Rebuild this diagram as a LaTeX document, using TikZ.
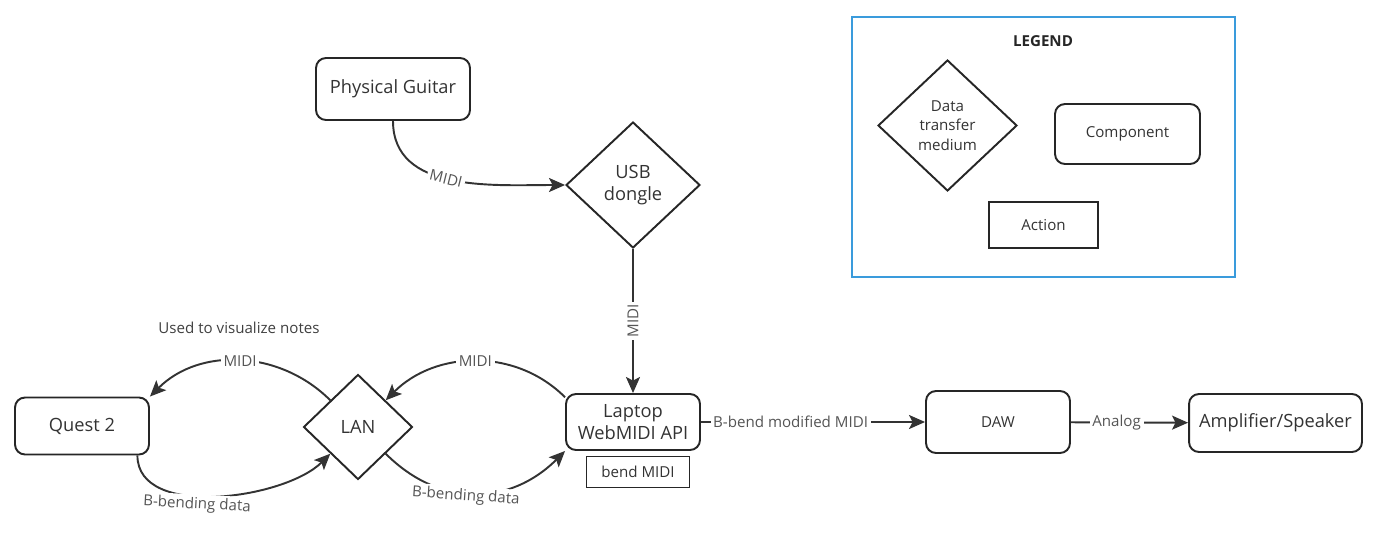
\documentclass[tikz,border=0pt]{standalone}
\usepackage{fontspec}
\setmainfont{Open Sans}
\usetikzlibrary{shapes.geometric,arrows.meta}
\definecolor{edgegray}{HTML}{333333}
\definecolor{labelgray}{HTML}{555555}
\definecolor{legendblue}{HTML}{3A9BDC}
\begin{document}
\begin{tikzpicture}[x=0.02cm,y=0.02cm,
    component/.style ={draw=black!85, line width=1.1pt, rounded corners=2mm, text=black!80, align=center, font=\fontsize{10.4}{13}\selectfont},
    medium/.style ={diamond, draw=black!85, line width=1.1pt, inner sep=0pt, text=black!80, align=center, font=\fontsize{10.4}{13}\selectfont},
    action/.style ={draw=black!85, line width=1.1pt, text=black!80, font=\fontsize{8.6}{10}\selectfont},
    small/.style ={font=\fontsize{8.6}{11}\selectfont},
    link/.style ={draw=edgegray, line width=1.1pt, -{Stealth[length=3.2mm,width=2.8mm,inset=0.7mm]}},
    tag/.style ={fill=white, text=labelgray, inner sep=1.5pt, font=\fontsize{8.6}{10}\selectfont}]
   \useasboundingbox (0,0) rectangle (1385,-551);

   \node[component, minimum width=3.08cm, minimum height=1.24cm] (G) at (393,-89) {Physical Guitar};
   \node[medium, minimum width=2.68cm, minimum height=2.52cm] (U) at (633,-185) {USB\\dongle};
   \node[component, minimum width=2.68cm, minimum height=1.12cm, font=\fontsize{10.4}{12.5}\selectfont] (L) at (633,-422) {Laptop\\WebMIDI API};
   \node[action, minimum width=2.06cm, minimum height=0.62cm] (B) at (638,-472) {bend MIDI};
   \node[medium, minimum width=2.18cm, minimum height=2.1cm] (N) at (358,-427) {LAN};
   \node[component, minimum width=2.68cm, minimum height=1.14cm] (Q) at (82,-426) {Quest 2};
   \node[component, small, minimum width=2.88cm, minimum height=1.24cm] (D) at (998,-422) {DAW};
   \node[component, minimum width=3.46cm, minimum height=1.16cm] (S) at (1275.5,-423) {Amplifier/Speaker};
   \node[small, text=black!75] (V) at (239,-328) {Used to visualize notes};

   \node[draw=legendblue, line width=1.1pt, minimum width=7.66cm, minimum height=5.2cm] (K) at (1043.5,-147) {};
   \node[small, font=\fontsize{8.6}{11}\bfseries, text=black!85] (T) at (1043,-41) {LEGEND};
   \node[medium, small, minimum width=2.78cm, minimum height=2.62cm] (M) at (947.5,-125.5) {Data\\transfer\\medium};
   \node[component, small, minimum width=2.9cm, minimum height=1.2cm] (C) at (1127.5,-134) {Component};
   \node[action, minimum width=2.18cm, minimum height=0.92cm] (A) at (1043.5,-225) {Action};

   \draw[link] (G) to [out=-90, in=180] node[tag, sloped, pos=0.47] {MIDI} (U);
   \draw[link] (U) -- node[tag, rotate=90] {MIDI} (L);
   \draw[link] (L.160) to [out=135, in=45] node[tag] {MIDI} (N.north east);
   \draw[link] (N.north west) to [out=135, in=45] node[tag] {MIDI} (Q.north east);
   \draw[link] (Q.-28) to [out=-90, in=-135, looseness=0.85] node[tag, pos=0.42, yshift=-5pt, rotate=-3] {B-bending data} (N.south west);
   \draw[link] (N.south east) to [out=-45, in=-135, looseness=1.1] node[tag, sloped, pos=0.45, yshift=-2pt] {B-bending data} (L.south west);
   \draw[link] (L) -- node[tag, pos=0.4] {B-bend modified MIDI} (D);
   \draw[link] (D) -- node[tag, pos=0.39] {Analog} (S);
\end{tikzpicture}
\end{document}
